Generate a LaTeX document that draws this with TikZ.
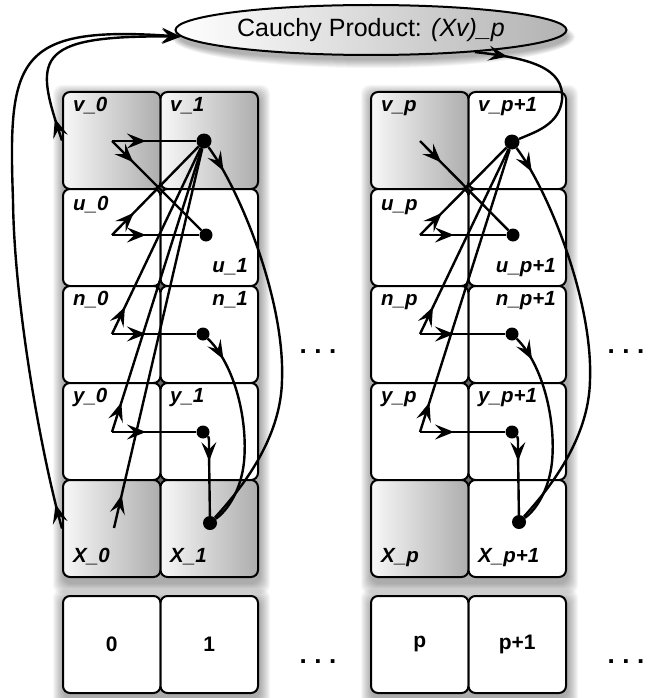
\documentclass[tikz,border=0pt]{standalone}
\usepackage{fontspec}
\setmainfont{Liberation Sans}
\usetikzlibrary{arrows.meta,decorations.markings,shapes.geometric}

\tikzset{
  barb/.tip={Stealth[length=19pt,width=15pt,inset=7.5pt]},
  cellbox/.style={draw, line width=2pt, rounded corners=7pt, fill=white,
    minimum width=97.5pt, minimum height=97pt, inner sep=0pt},
  graycell/.style={left color=black!3, right color=black!32},
  cellname/.style={font=\fontsize{20.5}{22}\selectfont\bfseries\itshape, inner sep=0pt},
  idxname/.style={font=\fontsize{21}{23}\selectfont\bfseries, inner sep=0pt},
  valdot/.style={circle, fill=black, inner sep=0pt, minimum size=12pt},
  wire/.style={line width=2.4pt},
  midarr/.style={postaction={decorate},
    decoration={markings, mark=at position #1 with {\arrow{barb}}}},
  ellip/.style={font=\fontsize{26}{26}\selectfont\bfseries, inner sep=0pt},
}

% soft drop shadow behind a rectangular block
\newcommand\softshadow[4]{%
  \foreach \k in {1,...,11}{%
    \fill[black,opacity=0.036,rounded corners=9pt]
      (#1-\k+1,#2-\k+4) rectangle (#3+\k+1,#4+\k+5);}}

\begin{document}
\begin{tikzpicture}[x=1pt,y=-1pt]
\useasboundingbox (0,0) rectangle (651,698);

% ---------- shadows ----------
\softshadow{63}{92}{258}{578}
\softshadow{371}{92}{566}{578}
\softshadow{63}{596}{258}{693}
\softshadow{371}{596}{566}{693}
\foreach \k in {1,...,9}
  \fill[black,opacity=0.04] (373,37) ellipse ({193+\k} and {22+\k});

% dark backing that shows through where cell corners meet
\fill[black!60] (68,97) rectangle (253,573);
\fill[black!60] (376,97) rectangle (561,573);

% ---------- column for index 0 / 1 ----------
\node[cellbox, graycell] (cva0) at (111.75,140.5) {};
\node[cellbox, graycell] (cva1) at (209.25,140.5) {};
\node[cellbox] (cua0) at (111.75,237.5) {};
\node[cellbox] (cua1) at (209.25,237.5) {};
\node[cellbox] (cna0) at (111.75,334.5) {};
\node[cellbox] (cna1) at (209.25,334.5) {};
\node[cellbox] (cya0) at (111.75,431.5) {};
\node[cellbox] (cya1) at (209.25,431.5) {};
\node[cellbox, graycell] (cxa0) at (111.75,528.5) {};
\node[cellbox, graycell] (cxa1) at (209.25,528.5) {};

% ---------- column for index p / p+1 ----------
\node[cellbox, graycell] (cvb0) at (419.75,140.5) {};
\node[cellbox] (cvb1) at (517.25,140.5) {};
\node[cellbox] (cub0) at (419.75,237.5) {};
\node[cellbox] (cub1) at (517.25,237.5) {};
\node[cellbox] (cnb0) at (419.75,334.5) {};
\node[cellbox] (cnb1) at (517.25,334.5) {};
\node[cellbox] (cyb0) at (419.75,431.5) {};
\node[cellbox] (cyb1) at (517.25,431.5) {};
\node[cellbox, graycell] (cxb0) at (419.75,528.5) {};
\node[cellbox] (cxb1) at (517.25,528.5) {};

% ---------- index boxes ----------
\node[cellbox, idxname] (ba0) at (111.75,644.5) {0};
\node[cellbox, idxname] (ba1) at (209.25,644.5) {1};
\node[cellbox, idxname] (bb0) at (419.75,644.5) {p};
\node[cellbox, idxname] (bb1) at (517.25,644.5) {p+1};

% ---------- cell labels ----------
\node[cellname, anchor=base west] (lva0) at (73,111) {v\_0};
\node[cellname, anchor=base west] (lva1) at (170,111) {v\_1};
\node[cellname, anchor=base west] (lua0) at (73,210) {u\_0};
\node[cellname, anchor=base east] (lua1) at (248,272) {u\_1};
\node[cellname, anchor=base west] (lna0) at (73,305) {n\_0};
\node[cellname, anchor=base east] (lna1) at (248,305) {n\_1};
\node[cellname, anchor=base west] (lya0) at (73,402) {y\_0};
\node[cellname, anchor=base west] (lya1) at (170,402) {y\_1};
\node[cellname, anchor=base west] (lxa0) at (73,562) {X\_0};
\node[cellname, anchor=base west] (lxa1) at (170,562) {X\_1};

\node[cellname, anchor=base west] (lvb0) at (381,111) {v\_p};
\node[cellname, anchor=base west] (lvb1) at (478,111) {v\_p+1};
\node[cellname, anchor=base west] (lub0) at (381,210) {u\_p};
\node[cellname, anchor=base east] (lub1) at (556,272) {u\_p+1};
\node[cellname, anchor=base west] (lnb0) at (381,305) {n\_p};
\node[cellname, anchor=base east] (lnb1) at (556,305) {n\_p+1};
\node[cellname, anchor=base west] (lyb0) at (381,402) {y\_p};
\node[cellname, anchor=base west] (lyb1) at (478,402) {y\_p+1};
\node[cellname, anchor=base west] (lxb0) at (381,562) {X\_p};
\node[cellname, anchor=base west] (lxb1) at (478,562) {X\_p+1};

% ---------- continuation marks ----------
\node[ellip] (gapm1) at (318,352) {.\hspace{7.5pt}.\hspace{7.5pt}.};
\node[ellip] (gapm2) at (626,352) {.\hspace{7.5pt}.\hspace{7.5pt}.};
\node[ellip] (gapb1) at (318,662) {.\hspace{7.5pt}.\hspace{7.5pt}.};
\node[ellip] (gapb2) at (626,662) {.\hspace{7.5pt}.\hspace{7.5pt}.};

% ---------- Cauchy product ----------
\node[ellipse, draw, line width=2pt, minimum width=391pt, minimum height=50pt,
      inner sep=0pt, left color=white, right color=black!30,
      font=\fontsize{25}{27}\selectfont] (cauchy) at (371,30)
      {Cauchy Product: \textit{(Xv)\_p}};

% ---------- dependency points and value dots ----------
\coordinate (Pva) at (112,141);
\coordinate (Pua) at (112,235);
\coordinate (Pna) at (112,334);
\coordinate (Pya) at (112,432);
\coordinate (Pxa) at (114,528);
\coordinate (Pvb) at (420,141);
\coordinate (Pub) at (420,235);
\coordinate (Pnb) at (420,334);
\coordinate (Pyb) at (420,432);

\node[valdot, minimum size=15pt] (dva) at (204,141) {};
\node[valdot, minimum size=13pt] (dua) at (206,235) {};
\node[valdot, minimum size=13pt] (dna) at (203,334) {};
\node[valdot, minimum size=13pt] (dya) at (203,432) {};
\node[valdot, minimum size=14pt] (dxa) at (210,523) {};

\node[valdot, minimum size=15pt] (dvb) at (512,142) {};
\node[valdot, minimum size=13pt] (dub) at (513,235) {};
\node[valdot, minimum size=13pt] (dnb) at (512,334) {};
\node[valdot, minimum size=13pt] (dyb) at (512,432) {};
\node[valdot, minimum size=14pt] (dxb) at (519,522) {};

% ---------- wires, first column ----------
\draw[wire, midarr=34pt] (Pva) -- (dva);
\draw[wire, midarr=30pt] (Pva) -- (dua);
\draw[wire, midarr=34pt] (Pua) -- (dua);
\draw[wire, midarr=31pt] (Pua) -- (dva);
\draw[wire, midarr=34pt] (Pna) -- (dna);
\draw[wire, midarr=30pt] (Pna) -- (dva);
\draw[wire, midarr=34pt] (Pya) -- (dya);
\draw[wire, midarr=31pt] (Pya) -- (dva);
\draw[wire, midarr=34pt] (Pxa) -- (dva);
\draw[wire, midarr=28pt] (dva) .. controls (240,190) and (285,300) .. (282,380)
      .. controls (281,440) and (240,490) .. (dxa);
\draw[wire, midarr=26pt] (dna) .. controls (235,365) and (248,420) .. (244,462)
      .. controls (241,490) and (228,510) .. (dxa);
\draw[wire, midarr=25pt] (dya) .. controls (209,437) .. (209,452) -- (dxa);

% ---------- wires, second column ----------
\draw[wire, midarr=30pt] (Pvb) -- (dub);
\draw[wire, midarr=34pt] (Pub) -- (dub);
\draw[wire, midarr=31pt] (Pub) -- (dvb);
\draw[wire, midarr=34pt] (Pnb) -- (dnb);
\draw[wire, midarr=30pt] (Pnb) -- (dvb);
\draw[wire, midarr=34pt] (Pyb) -- (dyb);
\draw[wire, midarr=31pt] (Pyb) -- (dvb);
\draw[wire, midarr=28pt] (dvb) .. controls (548,190) and (593,300) .. (590,380)
      .. controls (589,440) and (548,490) .. (dxb);
\draw[wire, midarr=26pt] (dnb) .. controls (543,365) and (556,420) .. (552,462)
      .. controls (549,490) and (536,510) .. (dxb);
\draw[wire, midarr=25pt] (dyb) .. controls (518,437) .. (518,452) -- (dxb);

% ---------- Cauchy product inputs and output ----------
\draw[wire, midarr=25pt, -barb] (cxa0.west) .. controls (40,450) and (14,300) .. (13,200)
      .. controls (8,60) and (15,25) .. (cauchy.182);
\draw[wire, midarr=23pt, -barb] (cva0.west) .. controls (35,60) and (30,35) .. (cauchy.182);
\draw[wire, midarr=33pt] (cauchy.-12) .. controls (530,58) and (565,68) .. (562,100)
      .. controls (559,125) and (535,132) .. (dvb);
\end{tikzpicture}
\end{document}
